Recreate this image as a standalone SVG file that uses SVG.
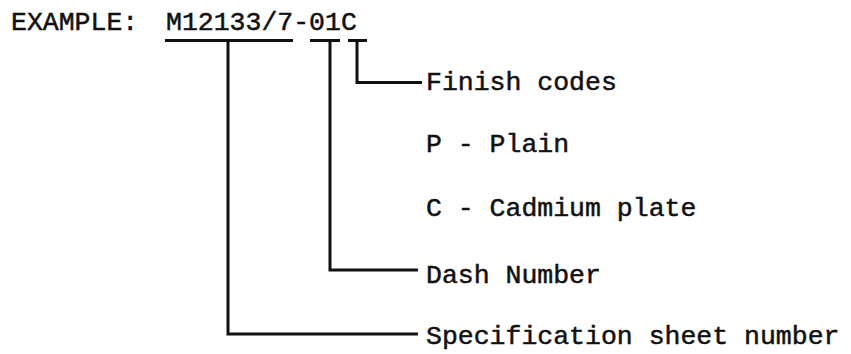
<svg xmlns="http://www.w3.org/2000/svg" width="851" height="354" viewBox="0 0 851 354">
<style>
  text { font-family: "Liberation Mono", "DejaVu Sans Mono", monospace; font-size: 26.5px; fill: #111; stroke: #111; stroke-width: 0.5; }
  .ln { stroke: #111; stroke-width: 3; fill: none; stroke-linecap: butt; stroke-linejoin: miter; }
</style>
<rect width="851" height="354" fill="#fff"/>
<g id="title">
  <text x="11" y="30">EXAMPLE:</text>
  <text x="166" y="30">M12133/7-01C</text>
</g>
<g id="connectors">
  <path class="ln" d="M165,40.5 H293"/>
  <path class="ln" d="M228,40.5 V334 H418"/>
  <path class="ln" d="M310,40.5 H340"/>
  <path class="ln" d="M330,40.5 V270 H418"/>
  <path class="ln" d="M348,40.5 H367"/>
  <path class="ln" d="M357,40.5 V82.5 H422"/>
</g>
<g id="finish"><text x="426" y="90">Finish codes</text></g>
<g id="plain"><text x="426" y="152">P - Plain</text></g>
<g id="cadmium"><text x="426" y="216">C - Cadmium plate</text></g>
<g id="dash"><text x="426" y="283">Dash Number</text></g>
<g id="spec"><text x="426" y="344">Specification sheet number</text></g>
</svg>
